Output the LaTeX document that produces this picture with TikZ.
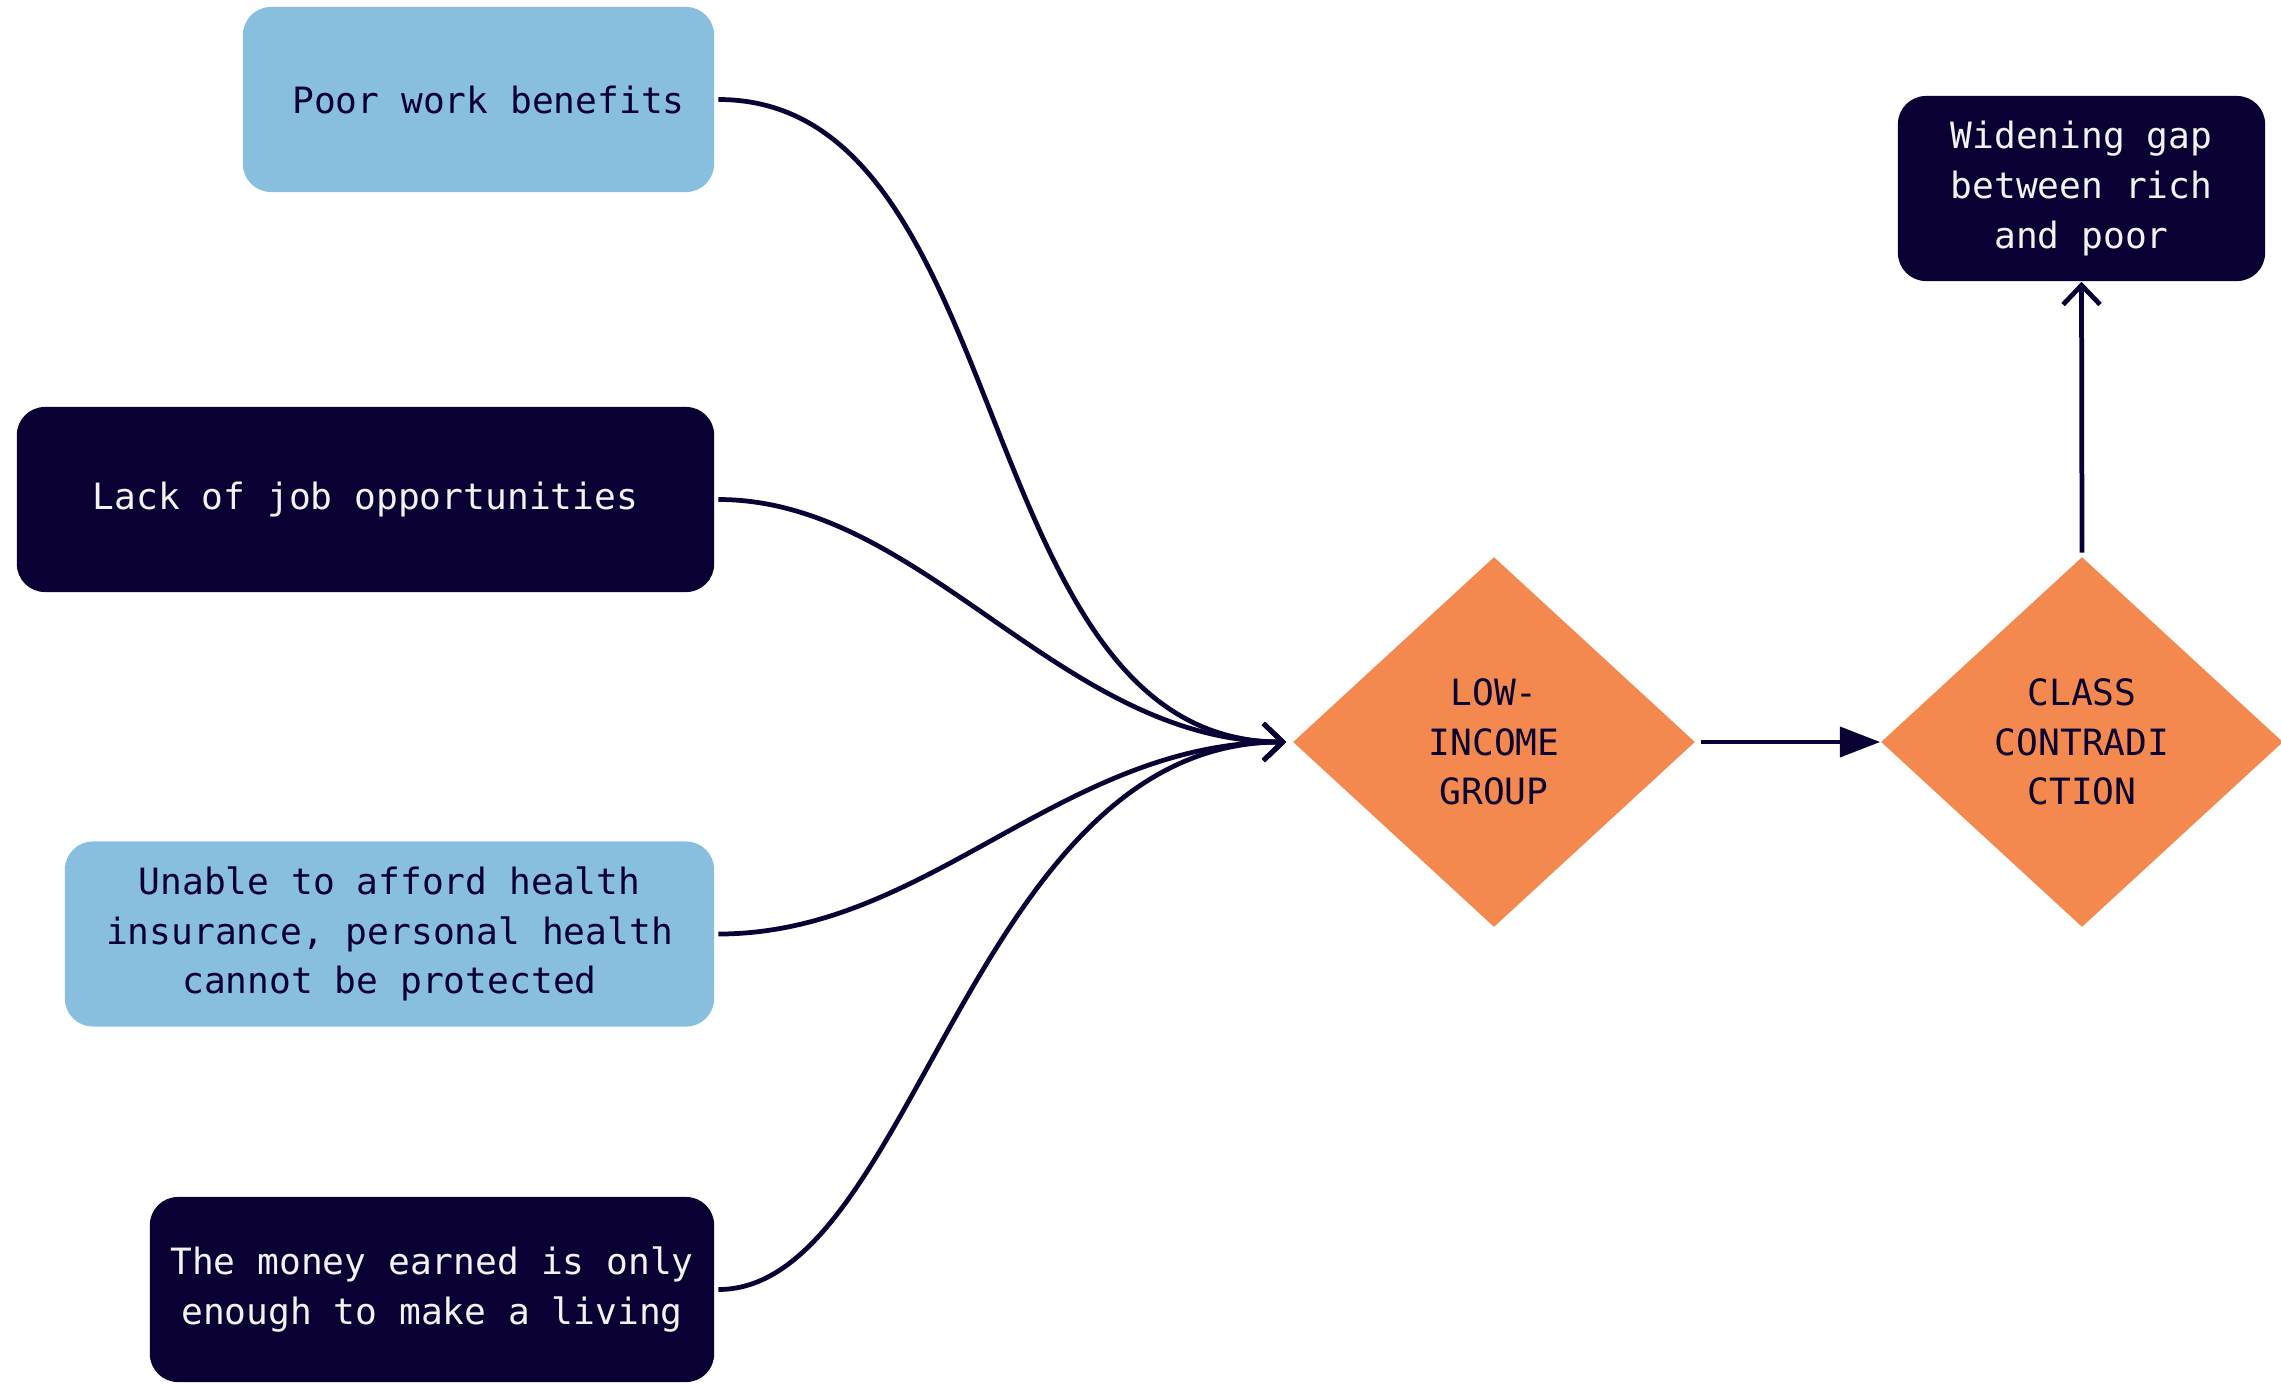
\documentclass[tikz,border=0pt]{standalone}
\usepackage{fontspec}
\setmonofont{DejaVu Sans Mono}
\usetikzlibrary{shapes.geometric,arrows.meta}
\definecolor{navy}{HTML}{0A0033}
\definecolor{lightblue}{HTML}{89BFDE}
\definecolor{orangeD}{HTML}{F3894F}
\definecolor{offwhite}{HTML}{F2F2F2}
\tikzset{
  txt/.style={font=\ttfamily\fontsize{10.3}{14.1}\selectfont},
  box/.style={rectangle, rounded corners=8pt, inner sep=0pt, align=center, txt, minimum height=1.85cm},
  lightbox/.style={box, fill=lightblue, text=navy},
  darkbox/.style={box, fill=navy, text=offwhite},
  dia/.style={diamond, fill=orangeD, text=navy, inner sep=0pt, minimum width=4.02cm, minimum height=3.70cm, align=center, txt},
  link/.style={draw=navy, line width=1.35pt, -{Straight Barb[length=5.5pt,width=10.5pt]}},
  flow/.style={draw=navy, line width=1.35pt, -{Triangle[length=11.5pt,width=8.5pt]}},
}
\begin{document}
\begin{tikzpicture}[x=0.01cm,y=-0.01cm]
\useasboundingbox (0,0) rectangle (2281,1384);
\node[lightbox, minimum width=4.71cm] (b1) at (478.5,99.5) {\hspace*{0.2cm}Poor work benefits};
\node[darkbox, minimum width=6.97cm] (b2) at (365.5,499.5) {Lack of job opportunities};
\node[lightbox, minimum width=6.49cm] (b3) at (389.5,934) {Unable to afford health\\insurance, personal health\\cannot be protected};
\node[darkbox, minimum width=5.64cm] (b4) at (432,1289.5) {The money earned is only\\enough to make a living};
\node[darkbox, minimum width=3.67cm] (b5) at (2081.5,188.5) {Widening gap\\between rich\\and poor};
\node[dia] (d1) at (1494,742) {LOW-\\INCOME\\GROUP};
\node[dia] (d2) at (2082,742) {CLASS\\CONTRADI\\CTION};
\draw[link] ([xshift=1pt]b1.east) .. controls +(301,0) and +(-321,0) .. ([xshift=-1.7pt]d1.west);
\draw[link] ([xshift=1pt]b2.east) .. controls +(205,0) and +(-225,0) .. ([xshift=-1.7pt]d1.west);
\draw[link] ([xshift=1pt]b3.east) .. controls +(210,0) and +(-225,0) .. ([xshift=-1.7pt]d1.west);
\draw[link] ([xshift=1pt]b4.east) .. controls +(195,0) and +(-316,0) .. ([xshift=-1.7pt]d1.west);
\draw[flow] ([xshift=1.4pt]d1.east) -- (d2.west);
\draw[link] ([yshift=1pt]d2.north) -- (b5.south);
\end{tikzpicture}
\end{document}
